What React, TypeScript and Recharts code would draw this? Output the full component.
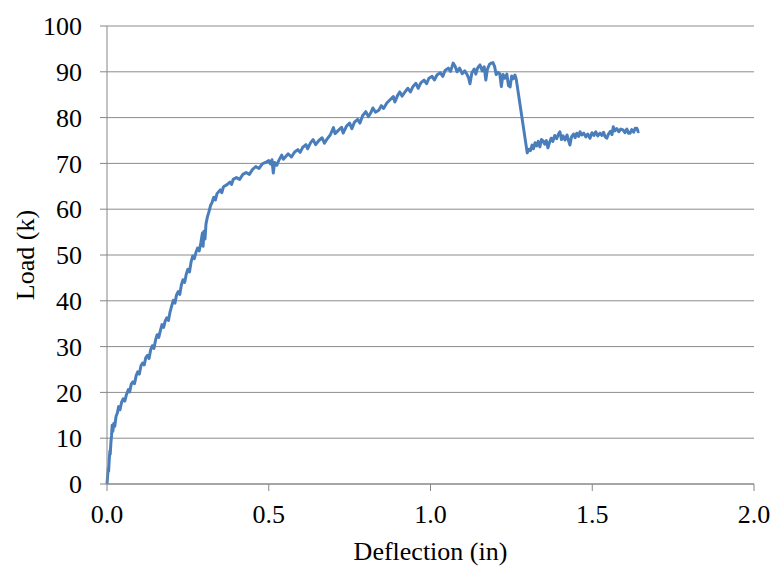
import React from 'react';
import { LineChart, Line, XAxis, YAxis, CartesianGrid } from 'recharts';

const deflection: number[] = [
  0.000, 0.002, 0.004, 0.005, 0.007, 0.009, 0.010, 0.012, 0.014, 0.016, 0.018, 0.021, 0.024, 0.028, 0.032, 0.036, 0.040, 0.045, 0.050, 0.055,
  0.060, 0.066, 0.070, 0.075, 0.080, 0.085, 0.090, 0.095, 0.100, 0.105, 0.110, 0.115, 0.120, 0.125, 0.130, 0.135, 0.140, 0.145, 0.150, 0.155,
  0.160, 0.165, 0.170, 0.175, 0.180, 0.185, 0.190, 0.195, 0.200, 0.205, 0.210, 0.215, 0.220, 0.225, 0.230, 0.235, 0.240, 0.245, 0.250, 0.255,
  0.260, 0.265, 0.270, 0.275, 0.280, 0.285, 0.290, 0.295, 0.297, 0.300, 0.303, 0.306, 0.310, 0.315, 0.320, 0.325, 0.330, 0.335, 0.340, 0.350,
  0.355, 0.360, 0.370, 0.380, 0.385, 0.390, 0.400, 0.410, 0.420, 0.430, 0.440, 0.450, 0.460, 0.470, 0.480, 0.490, 0.500, 0.505, 0.510, 0.514,
  0.518, 0.525, 0.530, 0.540, 0.545, 0.550, 0.560, 0.570, 0.580, 0.590, 0.597, 0.605, 0.615, 0.620, 0.630, 0.637, 0.645, 0.655, 0.665, 0.672,
  0.680, 0.690, 0.700, 0.705, 0.715, 0.725, 0.730, 0.740, 0.750, 0.757, 0.765, 0.775, 0.782, 0.790, 0.800, 0.808, 0.815, 0.822, 0.830, 0.840,
  0.848, 0.855, 0.865, 0.875, 0.885, 0.890, 0.898, 0.905, 0.912, 0.920, 0.930, 0.938, 0.946, 0.955, 0.962, 0.970, 0.980, 0.988, 0.995, 1.005,
  1.012, 1.020, 1.030, 1.038, 1.045, 1.055, 1.062, 1.070, 1.076, 1.082, 1.090, 1.098, 1.106, 1.113, 1.118, 1.122, 1.128, 1.135, 1.140, 1.146,
  1.153, 1.160, 1.166, 1.171, 1.176, 1.182, 1.188, 1.193, 1.198, 1.203, 1.208, 1.214, 1.219, 1.224, 1.230, 1.236, 1.241, 1.246, 1.251, 1.256,
  1.261, 1.265, 1.299, 1.304, 1.309, 1.314, 1.318, 1.323, 1.328, 1.333, 1.338, 1.343, 1.348, 1.353, 1.358, 1.363, 1.368, 1.373, 1.378, 1.384,
  1.390, 1.395, 1.400, 1.405, 1.410, 1.416, 1.422, 1.427, 1.431, 1.436, 1.442, 1.447, 1.452, 1.458, 1.462, 1.468, 1.474, 1.480, 1.486, 1.493,
  1.499, 1.505, 1.511, 1.517, 1.524, 1.530, 1.535, 1.540, 1.545, 1.550, 1.556, 1.561, 1.565, 1.570, 1.576, 1.582, 1.588, 1.595, 1.601, 1.607,
  1.612, 1.617, 1.622, 1.628, 1.633, 1.638, 1.642, 1.645,
];

const load: number[] = [
  0.0, 1.8, 3.5, 2.8, 5.5, 7.2, 6.5, 9.0, 10.5, 12.8, 11.5, 13.2, 12.6, 14.8, 15.5, 16.9, 16.2, 17.8, 18.6, 18.1,
  19.5, 20.6, 20.1, 21.8, 22.3, 21.9, 23.6, 24.5, 24.0, 25.8, 26.4, 26.0, 27.6, 28.1, 27.4, 29.3, 30.2, 29.6, 31.4, 32.6,
  32.0, 33.5, 34.8, 34.2, 35.6, 36.3, 35.7, 37.6, 38.9, 40.1, 39.5, 41.3, 42.0, 41.4, 43.5, 44.6, 44.0, 45.8, 46.9, 46.3,
  48.5, 49.8, 49.2, 50.6, 51.5, 50.9, 52.6, 54.8, 51.9, 55.2, 53.5, 56.8, 58.2, 59.4, 60.8, 61.5, 62.6, 62.0, 63.4, 64.2,
  63.6, 64.9, 65.3, 65.9, 65.4, 66.5, 66.9, 66.5, 67.6, 68.0, 67.6, 68.7, 69.3, 68.9, 69.9, 70.2, 70.6, 69.9, 70.8, 67.9,
  70.2, 69.6, 70.5, 71.8, 70.9, 71.3, 72.1, 71.4, 72.5, 73.0, 72.4, 73.5, 74.1, 73.2, 74.6, 75.2, 74.1, 75.0, 75.6, 74.4,
  75.3, 76.2, 77.8, 76.5, 77.2, 77.9, 76.6, 78.1, 78.8, 77.6, 79.0, 79.6, 78.8, 80.4, 81.3, 80.2, 81.0, 82.1, 81.2, 81.6,
  82.6, 82.0, 83.2, 83.9, 84.6, 83.4, 84.8, 85.6, 84.7, 85.5, 86.4, 85.6, 86.8, 87.5, 86.4, 87.6, 88.2, 87.4, 88.6, 89.0,
  88.2, 89.3, 89.8, 89.0, 90.3, 90.8, 90.1, 91.9, 91.2, 90.0, 90.8, 89.6, 90.2, 89.4, 88.6, 87.4, 89.8, 90.6, 89.5, 90.9,
  91.5, 90.2, 91.1, 88.2, 90.6, 91.6, 91.9, 92.0, 91.2, 89.4, 89.9, 89.6, 86.8, 89.4, 88.6, 89.5, 87.0, 86.7, 89.1, 88.5,
  89.3, 88.4, 72.3, 73.1, 72.8, 74.0, 73.2, 74.5, 73.8, 74.8, 73.6, 75.2, 74.9, 74.2, 75.0, 73.4, 74.6, 75.5, 74.8, 76.1,
  75.4, 76.3, 76.9, 75.2, 76.0, 75.1, 76.2, 74.9, 74.0, 75.8, 76.4, 75.6, 76.6, 75.9, 76.9, 76.2, 76.6, 75.8, 76.4, 75.5,
  76.7, 76.1, 76.9, 76.0, 76.6, 76.1, 76.8, 75.8, 75.5, 76.4, 77.0, 76.3, 78.0, 77.1, 77.6, 76.9, 77.5, 77.3, 76.7, 77.5,
  76.6, 76.6, 77.4, 76.8, 77.7, 77.7, 76.9, 77.0,
];

const xTicks: number[] = [0, 0.5, 1, 1.5, 2];
const yTicks: number[] = [0, 10, 20, 30, 40, 50, 60, 70, 80, 90, 100];

const data = deflection.map((d, i) => ({ x: d, y: load[i] }));

const FONT = '"Liberation Serif", "Times New Roman", serif';
const AXIS = '#868686';
const GRID = '#8c8c8c';

export default function App() {
  return (
    <div style={{ position: 'absolute', left: 0, top: 0, width: 778, height: 570, background: '#fff', fontFamily: FONT }}>
      <LineChart width={778} height={570} data={data} margin={{ top: 26, right: 24, bottom: 26, left: 0 }}>
        <CartesianGrid horizontal vertical={false} stroke={GRID} strokeWidth={1} />
        <XAxis
          type="number"
          dataKey="x"
          domain={[0, 2]}
          ticks={xTicks}
          tickFormatter={(v: number) => v.toFixed(1)}
          height={60}
          stroke={AXIS}
          tickSize={7}
          tickMargin={14}
          tick={{ fill: '#000', fontSize: 26, fontFamily: FONT }}
          label={{
            content: (p: any) => {
              const vb = p.viewBox;
              return (
                <text x={vb.x + vb.width / 2} y={vb.y + 76} textAnchor="middle" fill="#000" fontSize={26} fontFamily={FONT}>
                  Deflection (in)
                </text>
              );
            },
          }}
        />
        <YAxis
          type="number"
          domain={[0, 100]}
          ticks={yTicks}
          width={107}
          stroke={AXIS}
          tickSize={7}
          tickMargin={18}
          tick={{ fill: '#000', fontSize: 26, fontFamily: FONT }}
          label={{
            content: (p: any) => {
              const vb = p.viewBox;
              const cx = vb.x + 25;
              const cy = vb.y + vb.height / 2;
              return (
                <text x={cx} y={cy} transform={`rotate(-90, ${cx}, ${cy})`} textAnchor="middle" dominantBaseline="central" fill="#000" fontSize={26} fontFamily={FONT}>
                  Load (k)
                </text>
              );
            },
          }}
        />
        <Line type="linear" dataKey="y" stroke="#4a7ebb" strokeWidth={3} strokeLinejoin="round" dot={false} isAnimationActive={false} />
      </LineChart>
    </div>
  );
}
